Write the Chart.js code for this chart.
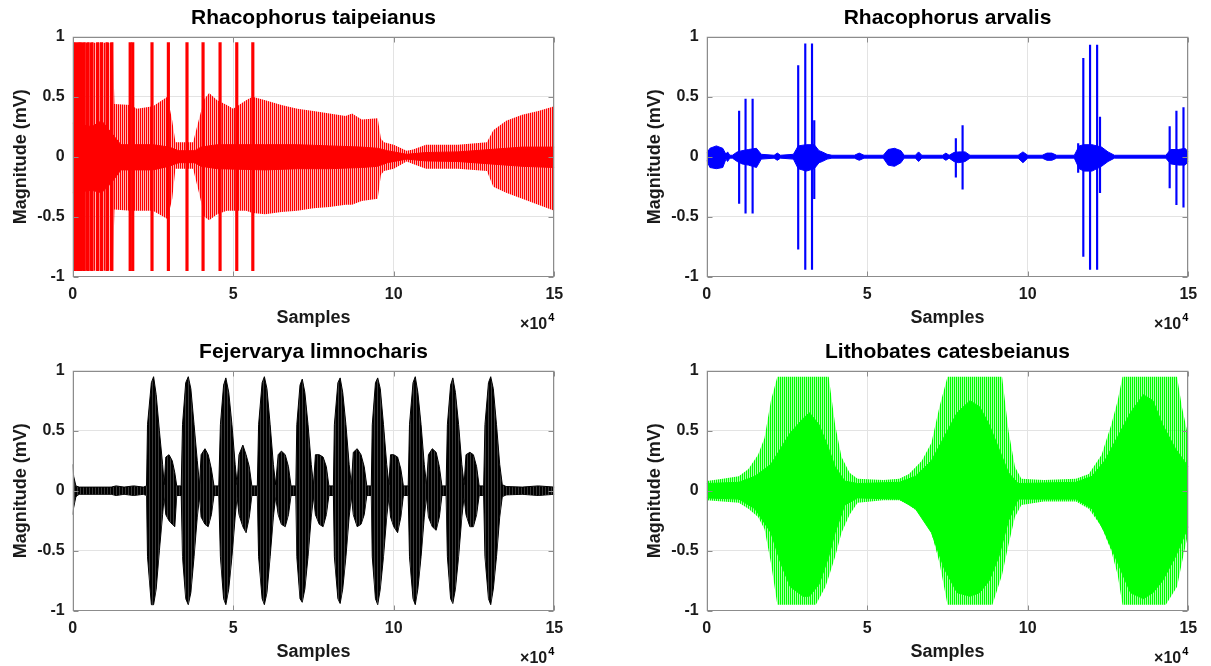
<!DOCTYPE html>
<html lang="en">
<head>
<meta charset="UTF-8">
<title>Frog call waveforms</title>
<script src="https://cdn.jsdelivr.net/npm/chart.js@4.4.1/dist/chart.umd.min.js"></script>
<style>
  html, body { margin: 0; padding: 0; background: #fff; overflow: hidden; }
  canvas { position: absolute; }
</style>
</head>
<body>
<canvas id="taipei" width="600" height="332" style="left:0;top:0"></canvas>
<canvas id="arvalis" width="577" height="332" style="left:634px;top:0"></canvas>
<canvas id="fejer" width="600" height="332" style="left:0;top:334px"></canvas>
<canvas id="litho" width="577" height="332" style="left:634px;top:334px"></canvas>
<script>
// sample positions are in units of 1e4 samples, magnitudes in mV

// Rhacophorus taipeianus
var taipeiOuterX  = [0, 1.25, 1.3, 1.8, 2.0, 2.5, 2.95, 3.1, 3.2, 3.75, 3.95, 4.1, 4.25, 4.5, 4.8, 5.0, 5.4, 5.6, 6.0, 6.5,
                     7.0, 7.5, 8.0, 8.5, 8.7, 9.0, 9.5, 9.6, 9.7, 10.0, 10.4, 10.6, 11.0, 12.0, 12.9, 13.1, 13.5, 14.0, 14.5, 15];
var taipeiOuterHi = [0.95, 0.95, 0.44, 0.43, 0.4, 0.42, 0.5, 0.3, 0.12, 0.12, 0.33, 0.48, 0.53, 0.47, 0.43, 0.4, 0.47, 0.5, 0.47, 0.43,
                     0.4, 0.38, 0.36, 0.34, 0.36, 0.31, 0.32, 0.15, 0.12, 0.1, 0.05, 0.06, 0.1, 0.1, 0.12, 0.22, 0.3, 0.35, 0.38, 0.42];
var taipeiOuterLo = [-0.95, -0.95, -0.44, -0.45, -0.45, -0.45, -0.52, -0.35, -0.1, -0.1, -0.32, -0.5, -0.53, -0.48, -0.45, -0.45, -0.45, -0.47, -0.48, -0.46,
                     -0.45, -0.43, -0.42, -0.4, -0.4, -0.37, -0.35, -0.15, -0.12, -0.1, -0.04, -0.06, -0.1, -0.1, -0.12, -0.25, -0.3, -0.35, -0.4, -0.45];
var taipeiCoreX  = [0, 0.6, 0.9, 1.2, 1.5, 2.5, 3.0, 3.3, 3.8, 4.0, 4.5, 6.0, 7.0, 8.0, 9.0, 9.5, 9.8, 10.4, 11.0, 12.0, 13.0, 14.0, 15];
var taipeiCoreHi = [0.28, 0.25, 0.3, 0.2, 0.1, 0.1, 0.08, 0.05, 0.05, 0.08, 0.1, 0.1, 0.1, 0.09, 0.08, 0.07, 0.05, 0.02, 0.035, 0.04, 0.06, 0.08, 0.08];
var taipeiCoreLo = [-0.3, -0.28, -0.3, -0.22, -0.11, -0.11, -0.08, -0.05, -0.05, -0.08, -0.1, -0.11, -0.1, -0.1, -0.09, -0.08, -0.05, -0.02, -0.035, -0.04, -0.06, -0.08, -0.09];
var taipeiSpikeX  = [0.08, 0.18, 0.26, 0.36, 0.48, 0.6, 0.78, 0.9, 1.07, 1.22, 1.79, 1.87, 2.47, 2.98, 3.56, 4.06, 4.59, 5.11, 5.61];
var taipeiSpikeHi = [0.95, 0.95, 0.95, 0.95, 0.95, 0.95, 0.95, 0.95, 0.95, 0.95, 0.95, 0.95, 0.95, 0.95, 0.95, 0.95, 0.95, 0.95, 0.95];
var taipeiSpikeLo = [-0.95, -0.95, -0.95, -0.95, -0.95, -0.95, -0.95, -0.95, -0.95, -0.95, -0.95, -0.95, -0.95, -0.95, -0.95, -0.95, -0.95, -0.95, -0.95];

// Rhacophorus arvalis
var arvalisX  = [0, 0.1, 0.3, 0.5, 0.6, 0.65, 0.72, 0.8, 0.95, 1.1, 1.3, 1.55, 1.7, 2.1, 2.2, 2.3, 2.7, 2.85, 3.1, 3.35,
                 3.5, 3.6, 3.75, 3.9, 4.6, 4.75, 4.9, 5.5, 5.65, 5.85, 6.05, 6.15, 6.5, 6.6, 6.7, 7.35, 7.45, 7.55, 7.7, 7.85,
                 8.05, 8.2, 9.7, 9.85, 10.0, 10.45, 10.6, 10.75, 10.9, 11.45, 11.6, 11.75, 12.0, 12.3, 12.5, 12.7, 14.3, 14.45, 14.7, 14.9, 15];
var arvalisHi = [0.03, 0.07, 0.09, 0.07, 0.02, 0.04, 0.012, 0.012, 0.04, 0.05, 0.06, 0.07, 0.02, 0.012, 0.03, 0.012, 0.02, 0.09, 0.1, 0.1,
                 0.05, 0.04, 0.02, 0.012, 0.012, 0.03, 0.012, 0.012, 0.06, 0.07, 0.05, 0.012, 0.012, 0.04, 0.012, 0.012, 0.03, 0.012, 0.035, 0.04,
                 0.04, 0.012, 0.012, 0.04, 0.012, 0.012, 0.03, 0.03, 0.012, 0.012, 0.09, 0.1, 0.1, 0.08, 0.04, 0.012, 0.012, 0.06, 0.06, 0.07, 0.04];
var arvalisLo = [-0.03, -0.09, -0.1, -0.09, -0.02, -0.04, -0.012, -0.012, -0.04, -0.06, -0.07, -0.09, -0.02, -0.012, -0.03, -0.012, -0.02, -0.1, -0.12, -0.1,
                 -0.05, -0.04, -0.02, -0.012, -0.012, -0.03, -0.012, -0.012, -0.07, -0.08, -0.05, -0.012, -0.012, -0.04, -0.012, -0.012, -0.03, -0.012, -0.04, -0.05,
                 -0.04, -0.012, -0.012, -0.05, -0.012, -0.012, -0.03, -0.03, -0.012, -0.012, -0.1, -0.12, -0.12, -0.08, -0.04, -0.012, -0.012, -0.06, -0.07, -0.07, -0.04];
var arvalisSpikeX  = [1.01, 1.21, 1.43, 2.85, 3.07, 3.28, 3.35, 7.76, 7.97, 11.57, 11.73, 11.94, 12.16, 12.25, 14.42, 14.63, 14.85];
var arvalisSpikeHi = [0.38, 0.48, 0.48, 0.76, 0.94, 0.94, 0.3, 0.15, 0.26, 0.11, 0.82, 0.93, 0.93, 0.33, 0.25, 0.38, 0.41];
var arvalisSpikeLo = [-0.39, -0.47, -0.47, -0.77, -0.94, -0.94, -0.35, -0.17, -0.27, -0.13, -0.83, -0.94, -0.94, -0.3, -0.26, -0.4, -0.42];

// Fejervarya limnocharis: ten loud notes, each followed by a softer one
var fejerX = [
  0, 0.03, 0.1, 0.2, 1.2, 1.35, 1.6, 1.9, 2.2, 2.3,
  2.33, 2.45, 2.52, 2.6, 2.7, 2.8, 2.85,     2.9, 3.0, 3.1, 3.18, 3.24, 3.38,
  3.42, 3.52, 3.6, 3.68, 3.78, 3.88, 3.95,   4.0, 4.12, 4.22, 4.32, 4.4, 4.55,
  4.6, 4.7, 4.77, 4.86, 4.96, 5.06, 5.12,    5.18, 5.3, 5.4, 5.5, 5.58, 5.75,
  5.79, 5.9, 5.97, 6.05, 6.15, 6.25, 6.32,   6.4, 6.5, 6.62, 6.72, 6.8, 6.95,
  6.98, 7.08, 7.15, 7.23, 7.33, 7.43, 7.5,   7.56, 7.68, 7.8, 7.9, 7.98, 8.12,
  8.15, 8.26, 8.33, 8.41, 8.51, 8.61, 8.68,  8.74, 8.86, 8.98, 9.08, 9.16, 9.3,
  9.33, 9.43, 9.5, 9.58, 9.68, 9.78, 9.85,   9.9, 10.0, 10.12, 10.22, 10.3, 10.45,
  10.49, 10.6, 10.67, 10.75, 10.85, 10.95, 11.02,  11.08, 11.2, 11.32, 11.42, 11.5, 11.63,
  11.67, 11.77, 11.84, 11.92, 12.02, 12.12, 12.19,  12.25, 12.37, 12.48, 12.58, 12.66, 12.8,
  12.84, 12.95, 13.02, 13.1, 13.2, 13.3, 13.38,
  13.5, 14.0, 14.5, 15
];
var fejerHi = [
  0.22, 0.12, 0.04, 0.03, 0.03, 0.04, 0.03, 0.04, 0.03, 0.04,
  0.55, 0.9, 0.95, 0.8, 0.5, 0.22, 0.05,     0.28, 0.3, 0.25, 0.15, 0.04, 0.04,
  0.55, 0.9, 0.95, 0.85, 0.55, 0.25, 0.05,   0.3, 0.35, 0.3, 0.18, 0.04, 0.04,
  0.55, 0.88, 0.94, 0.82, 0.55, 0.22, 0.05,  0.3, 0.38, 0.3, 0.2, 0.04, 0.04,
  0.55, 0.9, 0.95, 0.85, 0.55, 0.22, 0.05,   0.3, 0.33, 0.3, 0.2, 0.04, 0.04,
  0.55, 0.88, 0.93, 0.82, 0.55, 0.22, 0.05,  0.3, 0.3, 0.28, 0.2, 0.04, 0.04,
  0.55, 0.9, 0.94, 0.82, 0.55, 0.22, 0.05,   0.32, 0.35, 0.3, 0.2, 0.04, 0.04,
  0.55, 0.9, 0.94, 0.85, 0.55, 0.22, 0.05,   0.3, 0.3, 0.28, 0.18, 0.04, 0.04,
  0.55, 0.9, 0.95, 0.82, 0.55, 0.22, 0.05,   0.3, 0.35, 0.32, 0.2, 0.04, 0.04,
  0.55, 0.88, 0.94, 0.82, 0.55, 0.22, 0.05,  0.3, 0.32, 0.3, 0.2, 0.04, 0.04,
  0.55, 0.9, 0.95, 0.85, 0.55, 0.22, 0.05,
  0.035, 0.03, 0.04, 0.03
];
var fejerLo = [
  -0.2, -0.14, -0.05, -0.03, -0.03, -0.04, -0.03, -0.04, -0.03, -0.04,
  -0.55, -0.95, -0.95, -0.82, -0.5, -0.2, -0.05,   -0.2, -0.25, -0.28, -0.3, -0.04, -0.04,
  -0.55, -0.9, -0.95, -0.85, -0.55, -0.22, -0.05,  -0.22, -0.28, -0.3, -0.2, -0.04, -0.04,
  -0.55, -0.9, -0.95, -0.82, -0.55, -0.22, -0.05,  -0.2, -0.3, -0.35, -0.22, -0.04, -0.04,
  -0.55, -0.9, -0.95, -0.85, -0.55, -0.22, -0.05,  -0.2, -0.28, -0.3, -0.2, -0.04, -0.04,
  -0.55, -0.9, -0.93, -0.82, -0.55, -0.22, -0.05,  -0.2, -0.28, -0.3, -0.2, -0.04, -0.04,
  -0.55, -0.9, -0.94, -0.82, -0.55, -0.22, -0.05,  -0.2, -0.3, -0.28, -0.2, -0.04, -0.04,
  -0.55, -0.9, -0.95, -0.82, -0.55, -0.22, -0.05,  -0.22, -0.3, -0.35, -0.22, -0.04, -0.04,
  -0.55, -0.9, -0.95, -0.82, -0.55, -0.22, -0.05,  -0.22, -0.3, -0.33, -0.22, -0.04, -0.04,
  -0.55, -0.9, -0.94, -0.82, -0.55, -0.22, -0.05,  -0.2, -0.3, -0.3, -0.2, -0.04, -0.04,
  -0.55, -0.9, -0.95, -0.82, -0.55, -0.22, -0.05,
  -0.035, -0.03, -0.04, -0.03
];

// Lithobates catesbeianus
var lithoOuterX  = [0, 0.5, 1.0, 1.3, 1.6, 1.8, 2.0, 2.2, 3.4, 3.7, 3.8, 4.0, 4.2, 4.45, 4.7, 5.5, 6.0, 6.3, 6.7, 7.0,
                    7.25, 7.5, 8.9, 9.2, 9.4, 9.6, 9.8, 10.5, 11.5, 11.9, 12.3, 12.6, 12.8, 12.95, 14.3, 14.65, 14.8, 15];
var lithoOuterHi = [0.08, 0.1, 0.12, 0.18, 0.3, 0.44, 0.75, 0.95, 0.95, 0.95, 0.95, 0.55, 0.28, 0.15, 0.1, 0.09, 0.1, 0.14, 0.25, 0.4,
                    0.7, 0.95, 0.95, 0.95, 0.5, 0.2, 0.1, 0.09, 0.1, 0.14, 0.3, 0.55, 0.75, 0.95, 0.95, 0.95, 0.7, 0.45];
var lithoOuterLo = [-0.08, -0.09, -0.1, -0.15, -0.22, -0.32, -0.6, -0.95, -0.95, -0.8, -0.72, -0.55, -0.35, -0.2, -0.1, -0.08, -0.08, -0.12, -0.2, -0.35,
                    -0.6, -0.95, -0.95, -0.7, -0.45, -0.22, -0.12, -0.09, -0.09, -0.15, -0.3, -0.5, -0.7, -0.95, -0.95, -0.8, -0.6, -0.35];
var lithoCoreX  = [0, 1.0, 1.5, 2.0, 2.3, 2.6, 3.0, 3.2, 3.5, 3.8, 4.0, 4.3, 4.7, 6.0, 6.5, 7.0, 7.4, 7.8, 8.2, 8.5,
                   8.8, 9.1, 9.4, 9.7, 11.5, 12.0, 12.4, 12.8, 13.2, 13.6, 13.9, 14.2, 14.6, 15];
var lithoCoreHi = [0.06, 0.07, 0.12, 0.22, 0.35, 0.48, 0.6, 0.65, 0.55, 0.35, 0.2, 0.08, 0.06, 0.07, 0.12, 0.25, 0.45, 0.65, 0.75, 0.7,
                   0.55, 0.35, 0.15, 0.06, 0.07, 0.12, 0.25, 0.45, 0.65, 0.8, 0.75, 0.55, 0.35, 0.2];
var lithoCoreLo = [-0.06, -0.07, -0.15, -0.35, -0.6, -0.8, -0.88, -0.88, -0.78, -0.55, -0.35, -0.12, -0.06, -0.07, -0.15, -0.35, -0.65, -0.85, -0.88, -0.85,
                   -0.75, -0.55, -0.25, -0.07, -0.07, -0.15, -0.35, -0.6, -0.85, -0.9, -0.85, -0.75, -0.55, -0.3];

var xTicks = [0, 5, 10, 15];
var yTicks = [-1, -0.5, 0, 0.5, 1];

Chart.defaults.font.family = '"Liberation Sans", Arial, sans-serif';
Chart.defaults.font.weight = 'bold';
Chart.defaults.font.size = 16;
Chart.defaults.color = '#1a1a1a';

// vertical hatch: one pixel column per colour, repeated
function stripes(cols) {
    var c = document.createElement('canvas');
    c.width = cols.length;
    c.height = 1;
    var g = c.getContext('2d');
    for (var i = 0; i < cols.length; i++) {
        g.fillStyle = cols[i];
        g.fillRect(i, 0, 1, 1);
    }
    return g.createPattern(c, 'repeat');
}

function pts(xs, ys) {
    return xs.map(function (x, i) { return {x: x, y: ys[i]}; });
}

// two lines filled between them
function band(xs, hi, lo, fillStyle, edge, order) {
    var line = edge || 'rgba(0,0,0,0)';
    var w = edge ? 1 : 0;
    return [
        {data: pts(xs, hi), fill: '+1', backgroundColor: fillStyle, borderColor: line, borderWidth: w, pointRadius: 0, tension: 0, order: order},
        {data: pts(xs, lo), fill: false, borderColor: line, borderWidth: w, pointRadius: 0, tension: 0, order: order}
    ];
}

function spikes(xs, hi, lo, color, width) {
    return {
        type: 'bar',
        data: xs.map(function (x, i) { return {x: x, y: [lo[i], hi[i]]}; }),
        backgroundColor: color,
        barThickness: width,
        grouped: false,
        order: 1
    };
}

function fixTicks(list) {
    return function (scale) {
        scale.ticks = list.map(function (v) { return {value: v}; });
    };
}

// box, inward ticks, title above the axes and the x10^4 exponent label
var framePlugin = {
    id: 'frame',
    afterDatasetsDraw: function (chart, args, opts) {
        var ctx = chart.ctx, a = chart.chartArea;
        var sx = chart.scales.x, sy = chart.scales.y;
        var L = Math.round(a.left) + 0.5, R = Math.round(a.right) - 0.5;
        var T = Math.round(a.top) + 0.5, B = Math.round(a.bottom) - 0.5;
        ctx.save();
        ctx.strokeStyle = '#8c8c8c';
        ctx.lineWidth = 1;
        ctx.strokeRect(L, T, R - L, B - T);
        ctx.beginPath();
        xTicks.forEach(function (v) {
            var px = Math.round(sx.getPixelForValue(v)) + 0.5;
            ctx.moveTo(px, B); ctx.lineTo(px, B - 5);
            ctx.moveTo(px, T); ctx.lineTo(px, T + 5);
        });
        yTicks.forEach(function (v) {
            var py = Math.round(sy.getPixelForValue(v)) + 0.5;
            ctx.moveTo(L, py); ctx.lineTo(L + 5, py);
            ctx.moveTo(R, py); ctx.lineTo(R - 5, py);
        });
        ctx.stroke();

        ctx.fillStyle = '#000';
        ctx.textBaseline = 'middle';
        ctx.textAlign = 'center';
        ctx.font = 'bold 21px "Liberation Sans", Arial, sans-serif';
        ctx.fillText(opts.title, (a.left + a.right) / 2, 18);

        ctx.textAlign = 'right';
        ctx.font = 'bold 11px "Liberation Sans", Arial, sans-serif';
        var w4 = ctx.measureText('4').width;
        ctx.fillText('4', a.right, 318);
        ctx.fillStyle = '#1a1a1a';
        ctx.font = 'bold 16px "Liberation Sans", Arial, sans-serif';
        ctx.fillText('\u00d710', a.right - w4 - 1, 325);
        ctx.restore();
    }
};

function waveChart(id, title, datasets, padRight) {
    return new Chart(document.getElementById(id), {
        type: 'line',
        data: {datasets: datasets},
        plugins: [framePlugin],
        options: {
            responsive: false,
            animation: false,
            events: [],
            layout: {padding: {top: 36.7, right: padRight, bottom: 0, left: 0}},
            plugins: {
                legend: {display: false},
                tooltip: {enabled: false},
                frame: {title: title}
            },
            scales: {
                x: {
                    type: 'linear', min: 0, max: 15, offset: false,
                    afterBuildTicks: fixTicks(xTicks),
                    ticks: {padding: 8, maxRotation: 0, autoSkip: false,
                            callback: function (v) { return String(v); }},
                    grid: {color: '#e3e3e3', drawTicks: false, offset: false},
                    border: {display: false},
                    title: {display: true, text: 'Samples', font: {size: 18, weight: 'bold'},
                            padding: {top: 0, bottom: 3}},
                    afterFit: function (s) { s.height = 55.3; }
                },
                y: {
                    min: -1, max: 1,
                    afterBuildTicks: fixTicks(yTicks),
                    ticks: {padding: 8,
                            callback: function (v) { return String(Math.round(v * 10) / 10); }},
                    grid: {color: '#e3e3e3', drawTicks: false},
                    border: {display: false},
                    title: {display: true, text: 'Magnitude (mV)', font: {size: 18, weight: 'bold'},
                            padding: {top: 10, bottom: 0}},
                    afterFit: function (s) { s.width = 72.7; }
                }
            }
        }
    });
}

var red = '#ff0000', blue = '#0000ff', green = '#00ff00';

waveChart('taipei', 'Rhacophorus taipeianus',
    band(taipeiOuterX, taipeiOuterHi, taipeiOuterLo,
         stripes([red, 'rgba(255,0,0,0.3)']), null, 3)
    .concat(band(taipeiCoreX, taipeiCoreHi, taipeiCoreLo, red, red, 2))
    .concat([spikes(taipeiSpikeX, taipeiSpikeHi, taipeiSpikeLo, red, 2.5)]),
    45.7);

waveChart('arvalis', 'Rhacophorus arvalis',
    band(arvalisX, arvalisHi, arvalisLo, blue, blue, 2)
    .concat([spikes(arvalisSpikeX, arvalisSpikeHi, arvalisSpikeLo, blue, 1.5)]),
    22.7);

waveChart('fejer', 'Fejervarya limnocharis',
    band(fejerX, fejerHi, fejerLo, stripes(['#000', '#000', '#3a3a3a']), '#000', 2),
    45.7);

waveChart('litho', 'Lithobates catesbeianus',
    band(lithoOuterX, lithoOuterHi, lithoOuterLo,
         stripes([green, 'rgba(0,255,0,0.35)']), null, 3)
    .concat(band(lithoCoreX, lithoCoreHi, lithoCoreLo, green, green, 2)),
    22.7);
</script>
</body>
</html>
